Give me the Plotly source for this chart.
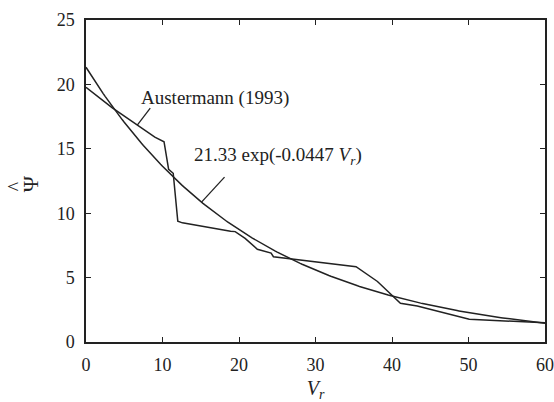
import numpy as np
import plotly.graph_objects as go

aust_vr = [0.0, 3.4, 9.0, 10.2, 10.8, 11.4, 12.0, 12.6, 18.9, 19.5, 20.8, 22.4, 24.2, 24.5,
           35.3, 38.1, 41.1, 43.3, 50.1, 60.0]
aust_psi = [19.78, 18.2, 15.9, 15.55, 13.4, 13.1, 9.37, 9.25, 8.6, 8.57, 8.05, 7.2, 6.9, 6.62,
            5.85, 4.7, 3.0, 2.8, 1.76, 1.5]

# Exponential fit: psi = A exp(-k Vr)
fit_a = 21.33
fit_k = 0.0447
fit_vr = np.linspace(0, 60, 241)
fit_psi = fit_a * np.exp(-fit_k * fit_vr)

x_ticks = [0, 10, 20, 30, 40, 50, 60]
y_ticks = [0, 5, 10, 15, 20, 25]

FONT = "Liberation Serif"
INK = "#222222"

fig = go.Figure()
fig.add_trace(go.Scatter(x=aust_vr, y=aust_psi, mode="lines",
                         line=dict(color=INK, width=1.5), showlegend=False))
fig.add_trace(go.Scatter(x=fit_vr, y=fit_psi, mode="lines",
                         line=dict(color=INK, width=1.5), showlegend=False))

# Leader lines, anchored on the curves and drawn in pixel offsets
aust_anchor = 6.7
fit_anchor = 15.1
leaders = [
    (aust_anchor, float(np.interp(aust_anchor, aust_vr, aust_psi)), 13, 17),
    (fit_anchor, fit_a * np.exp(-fit_k * fit_anchor), 23, 25),
]
for xa, ya, dx, dy in leaders:
    fig.add_shape(type="line", xref="x", yref="y", xsizemode="pixel", ysizemode="pixel",
                  xanchor=xa, yanchor=ya, x0=0, y0=0, x1=dx, y1=dy,
                  line=dict(color=INK, width=1.3))

fig.add_annotation(x=7.06, y=18.94, xref="x", yref="y", text="Austermann (1993)",
                   showarrow=False, xanchor="left", yanchor="middle", borderpad=0,
                   font=dict(family=FONT, size=19, color=INK))
fig.add_annotation(x=14.0, y=14.42, xref="x", yref="y",
                   text="21.33 exp(-0.0447 <i>V<sub>r</sub></i>)",
                   showarrow=False, xanchor="left", yanchor="middle", borderpad=0,
                   font=dict(family=FONT, size=19, color=INK))

# Rotated y-axis symbol: psi with a hat above it
fig.add_annotation(x=-0.122, y=0.49, xref="paper", yref="paper", text="\u03a8",
                   showarrow=False, textangle=-90, xanchor="center", yanchor="middle",
                   font=dict(family=FONT, size=22, color=INK))
fig.add_annotation(x=-0.154, y=0.485, xref="paper", yref="paper", text="^",
                   showarrow=False, textangle=-90, xanchor="center", yanchor="middle",
                   font=dict(family=FONT, size=20, color=INK))

axis_common = dict(showgrid=False, zeroline=False, showline=True, linecolor=INK, linewidth=1.5,
                   mirror="ticks", ticks="inside", ticklen=5, tickwidth=1, tickcolor=INK,
                   automargin=False,
                   tickfont=dict(family=FONT, size=18, color=INK))

fig.update_xaxes(range=[0, 60], tickvals=x_ticks, ticktext=[str(v) for v in x_ticks],
                 ticklabelstandoff=6,
                 title=dict(text="<i>V<sub>r</sub></i>", font=dict(family=FONT, size=20, color=INK),
                            standoff=11),
                 **axis_common)
fig.update_yaxes(range=[0, 25], tickvals=y_ticks, ticktext=[str(v) for v in y_ticks],
                 ticklabelstandoff=6,
                 **axis_common)

fig.update_layout(width=554, height=402, margin=dict(l=86, r=9, t=20, b=60),
                  plot_bgcolor="white", paper_bgcolor="white",
                  font=dict(family=FONT, color=INK))

fig.write_html("out.html")
